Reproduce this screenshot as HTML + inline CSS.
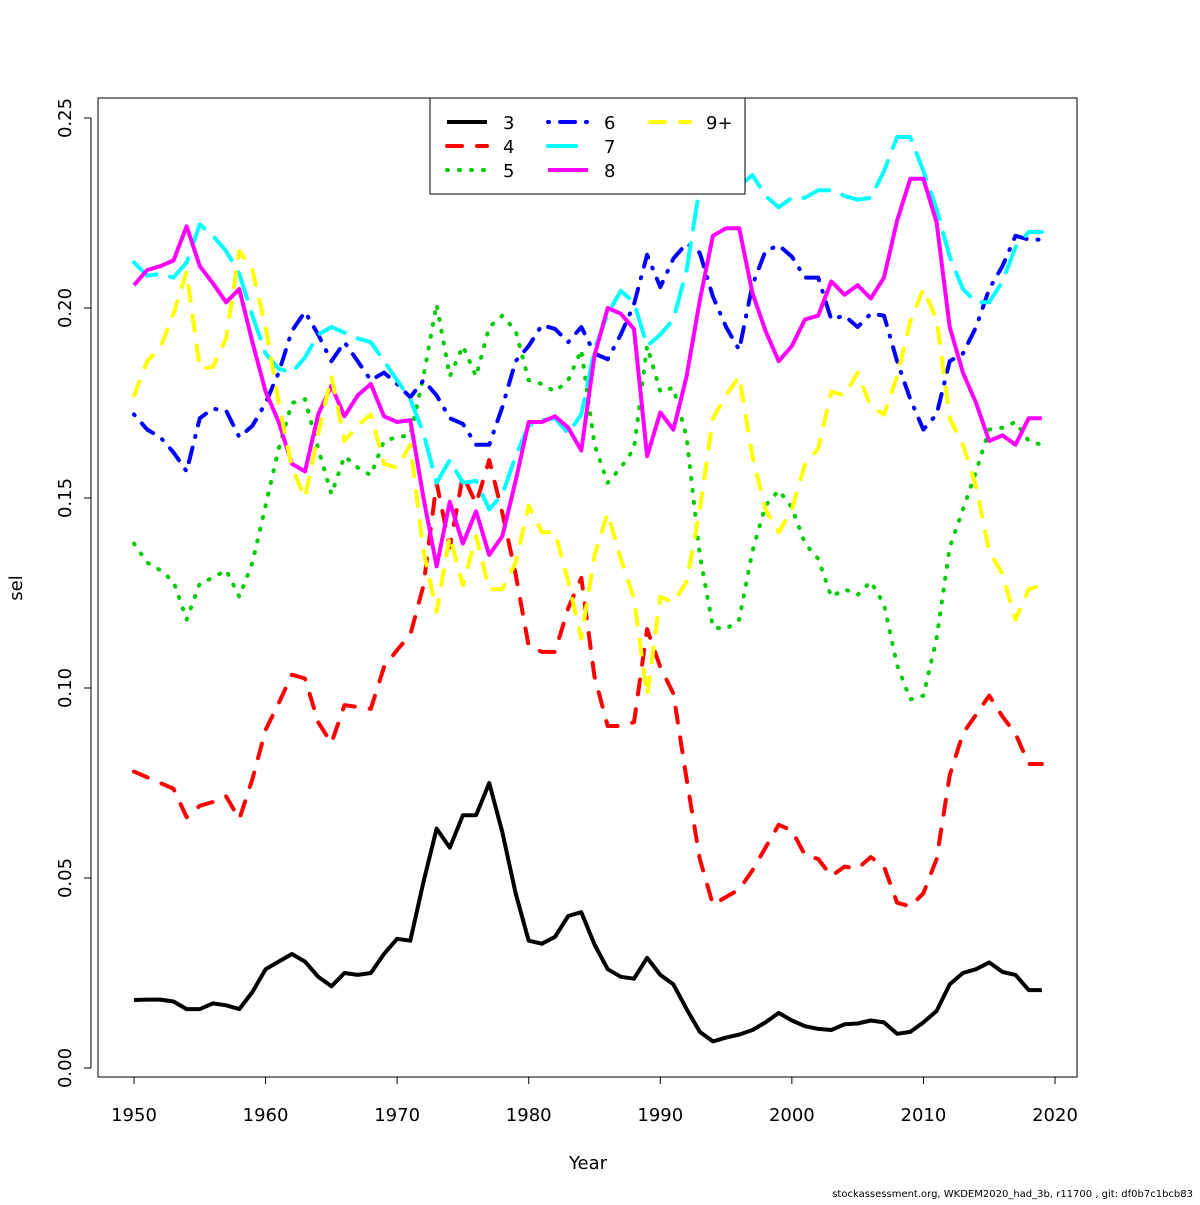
<!DOCTYPE html>
<html><head><meta charset="utf-8"><style>
body{margin:0;background:#fff}
svg text{font-family:"DejaVu Sans","Liberation Sans",sans-serif;fill:#000}
</style></head><body>
<svg id="chart" width="1200" height="1200" xmlns="http://www.w3.org/2000/svg">
<rect x="0" y="0" width="1200" height="1200" fill="#fff"/>
<g id="plot"></g>
<rect x="98" y="98" width="979" height="979" fill="none" stroke="#000" stroke-width="1"/>
<g id="axes"></g>
<text x="588" y="1169" font-size="18" text-anchor="middle">Year</text>
<text x="0" y="0" font-size="18" text-anchor="middle" transform="translate(22,588) rotate(-90)">sel</text>
<text x="1193" y="1197" font-size="10" text-anchor="end">stockassessment.org, WKDEM2020_had_3b, r11700 , git: df0b7c1bcb83</text>
<g id="legend">
<rect x="430" y="98" width="315" height="96" fill="#fff" stroke="#000" stroke-width="1"/>
</g>
</svg>
<script>
const years = [];
for (let y = 1950; y <= 2019; y++) years.push(y);
const seriesNames = ["3","4","5","6","7","8","9+"];
const s3 = [0.0179,0.018,0.018,0.0175,0.0155,0.0155,0.017,0.0165,0.0155,0.020,0.026,0.028,0.030,0.028,0.024,0.0215,0.025,0.0245,0.025,0.030,0.034,0.0335,0.049,0.063,0.058,0.0665,0.0665,0.075,0.062,0.046,0.0335,0.0327,0.0345,0.040,0.041,0.0325,0.026,0.024,0.0235,0.029,0.0245,0.022,0.0155,0.0095,0.007,0.008,0.0088,0.010,0.012,0.0145,0.0125,0.011,0.0103,0.010,0.0115,0.0117,0.0125,0.012,0.009,0.0095,0.012,0.015,0.022,0.025,0.026,0.0278,0.0253,0.0245,0.0205,0.0205];
const s4 = [0.078,0.0765,0.075,0.0735,0.066,0.069,0.070,0.0715,0.0655,0.076,0.089,0.096,0.1035,0.1025,0.091,0.0855,0.0955,0.095,0.0945,0.1055,0.110,0.114,0.127,0.154,0.137,0.156,0.1485,0.160,0.146,0.130,0.111,0.1095,0.1095,0.121,0.129,0.103,0.090,0.090,0.091,0.1155,0.1055,0.0985,0.076,0.055,0.043,0.045,0.047,0.052,0.058,0.064,0.0625,0.056,0.055,0.0505,0.053,0.0525,0.0555,0.053,0.0435,0.0425,0.046,0.055,0.077,0.088,0.093,0.098,0.0925,0.088,0.080,0.080];
const s5 = [0.138,0.133,0.131,0.128,0.118,0.1275,0.129,0.131,0.124,0.133,0.148,0.163,0.175,0.176,0.163,0.151,0.161,0.158,0.156,0.165,0.166,0.1665,0.182,0.201,0.182,0.190,0.182,0.195,0.198,0.194,0.181,0.180,0.178,0.181,0.189,0.164,0.154,0.158,0.163,0.190,0.178,0.179,0.166,0.135,0.116,0.1155,0.118,0.136,0.148,0.152,0.1475,0.138,0.134,0.124,0.126,0.1245,0.128,0.122,0.106,0.097,0.098,0.113,0.137,0.147,0.157,0.168,0.1685,0.170,0.165,0.164];
const s6 = [0.172,0.168,0.166,0.162,0.157,0.171,0.1735,0.173,0.166,0.169,0.175,0.183,0.194,0.199,0.193,0.186,0.191,0.186,0.181,0.183,0.180,0.1765,0.181,0.177,0.171,0.1695,0.164,0.164,0.174,0.186,0.190,0.1955,0.1945,0.191,0.195,0.188,0.1865,0.193,0.201,0.214,0.2055,0.213,0.217,0.2145,0.203,0.195,0.189,0.206,0.215,0.2165,0.2135,0.208,0.208,0.197,0.198,0.195,0.1985,0.198,0.186,0.176,0.168,0.172,0.186,0.188,0.195,0.205,0.211,0.219,0.218,0.218];
const s7 = [0.212,0.2085,0.209,0.208,0.212,0.222,0.219,0.215,0.209,0.198,0.188,0.184,0.183,0.187,0.193,0.195,0.1935,0.192,0.191,0.186,0.181,0.176,0.167,0.154,0.160,0.154,0.1545,0.147,0.151,0.161,0.169,0.1705,0.171,0.167,0.172,0.189,0.1985,0.2045,0.2015,0.190,0.193,0.197,0.210,0.232,0.240,0.232,0.232,0.235,0.2295,0.2265,0.229,0.229,0.231,0.231,0.2295,0.2285,0.229,0.236,0.245,0.245,0.236,0.226,0.2135,0.205,0.2015,0.2015,0.207,0.216,0.220,0.220];
const s8 = [0.206,0.210,0.211,0.2125,0.2215,0.211,0.2065,0.2015,0.205,0.191,0.178,0.170,0.159,0.157,0.172,0.1795,0.1715,0.177,0.180,0.1715,0.170,0.1705,0.150,0.132,0.149,0.138,0.1465,0.135,0.140,0.1545,0.170,0.170,0.1715,0.1685,0.1625,0.1875,0.200,0.1985,0.1945,0.161,0.1725,0.168,0.182,0.202,0.219,0.221,0.221,0.204,0.194,0.186,0.190,0.197,0.198,0.207,0.2035,0.206,0.2025,0.208,0.223,0.234,0.234,0.2225,0.195,0.183,0.175,0.165,0.1665,0.164,0.171,0.171];
const s9 = [0.177,0.186,0.1895,0.1985,0.2095,0.184,0.1845,0.192,0.215,0.210,0.195,0.175,0.158,0.150,0.167,0.182,0.165,0.169,0.172,0.159,0.158,0.164,0.136,0.120,0.140,0.127,0.140,0.126,0.126,0.133,0.148,0.141,0.141,0.128,0.113,0.135,0.146,0.134,0.1235,0.098,0.124,0.1225,0.128,0.147,0.171,0.177,0.182,0.161,0.147,0.141,0.147,0.159,0.163,0.178,0.177,0.183,0.174,0.172,0.182,0.1965,0.205,0.197,0.171,0.164,0.153,0.136,0.130,0.118,0.126,0.127];
const xTicks = [1950,1960,1970,1980,1990,2000,2010,2020];
const yTicks = [0.00,0.05,0.10,0.15,0.20,0.25];
const yTickLabels = ["0.00","0.05","0.10","0.15","0.20","0.25"];

const NS = "http://www.w3.org/2000/svg";
const xs = v => 134 + (v - 1950) * (921 / 70);
const ys = v => 1068 - v * 3800;
const styles = [
  {c:"#000000", d:""},
  {c:"#ff0000", d:"15 15"},
  {c:"#00cd00", d:"1 11"},
  {c:"#0000ff", d:"1 11 15 11"},
  {c:"#00ffff", d:"28 14"},
  {c:"#ff00ff", d:""},
  {c:"#ffff00", d:"15 15"}
];
const allSeries = [s3,s4,s5,s6,s7,s8,s9];
const plot = document.getElementById("plot");
allSeries.forEach((s, i) => {
  const p = document.createElementNS(NS, "path");
  let d = "";
  s.forEach((v, j) => { d += (j ? "L" : "M") + xs(years[j]).toFixed(1) + "," + ys(v).toFixed(1); });
  p.setAttribute("d", d);
  p.setAttribute("fill", "none");
  p.setAttribute("stroke", styles[i].c);
  p.setAttribute("stroke-width", "4");
  p.setAttribute("stroke-linejoin", "round");
  p.setAttribute("stroke-linecap", styles[i].d ? "round" : "butt");
  if (styles[i].d) p.setAttribute("stroke-dasharray", styles[i].d);
  
  
  plot.appendChild(p);
});
const axes = document.getElementById("axes");
function ln(x1,y1,x2,y2,name){
  const l = document.createElementNS(NS,"line");
  l.setAttribute("x1",x1);l.setAttribute("y1",y1);l.setAttribute("x2",x2);l.setAttribute("y2",y2);
  l.setAttribute("stroke","#000");l.setAttribute("stroke-width","1");
  
  
  axes.appendChild(l);
}
function tx(x,y,s,tr,name){
  const t = document.createElementNS(NS,"text");
  t.setAttribute("x",x);t.setAttribute("y",y);t.setAttribute("font-size","18");
  t.setAttribute("text-anchor","middle");
  if (tr) t.setAttribute("transform",tr);
  t.textContent = s;
  
  
  axes.appendChild(t);
}
ln(xs(1950),1077,xs(2020),1077,"x-axis-line");
xTicks.forEach(v => { ln(xs(v),1077,xs(v),1084,"x-tick"); tx(xs(v),1121,String(v),null,"x-tick-label"); });
ln(91,ys(0),91,ys(0.25),"y-axis-line");
yTicks.forEach((v,i) => { ln(84,ys(v),91,ys(v),"y-tick"); tx(0,0,yTickLabels[i],"translate(71,"+ys(v)+") rotate(-90)","y-tick-label"); });

const legend = document.getElementById("legend");
const lx = [447,447,447,548,548,548,650];
const lyy = [122,146,170,122,146,170,122];
seriesNames.forEach((n,i) => {
  const g = document.createElementNS(NS,"g");
  
  
  const l = document.createElementNS(NS,"line");
  l.setAttribute("x1",lx[i]);l.setAttribute("x2",lx[i]+40);l.setAttribute("y1",lyy[i]);l.setAttribute("y2",lyy[i]);
  l.setAttribute("stroke",styles[i].c);l.setAttribute("stroke-width","4");
  l.setAttribute("stroke-linecap", styles[i].d ? "round" : "butt");
  if (styles[i].d) l.setAttribute("stroke-dasharray",styles[i].d);
  g.appendChild(l);
  const t = document.createElementNS(NS,"text");
  t.setAttribute("x",lx[i]+56);t.setAttribute("y",lyy[i]+7);t.setAttribute("font-size","18");
  t.textContent = n;
  g.appendChild(t);
  legend.appendChild(g);
});
</script>
</body></html>
